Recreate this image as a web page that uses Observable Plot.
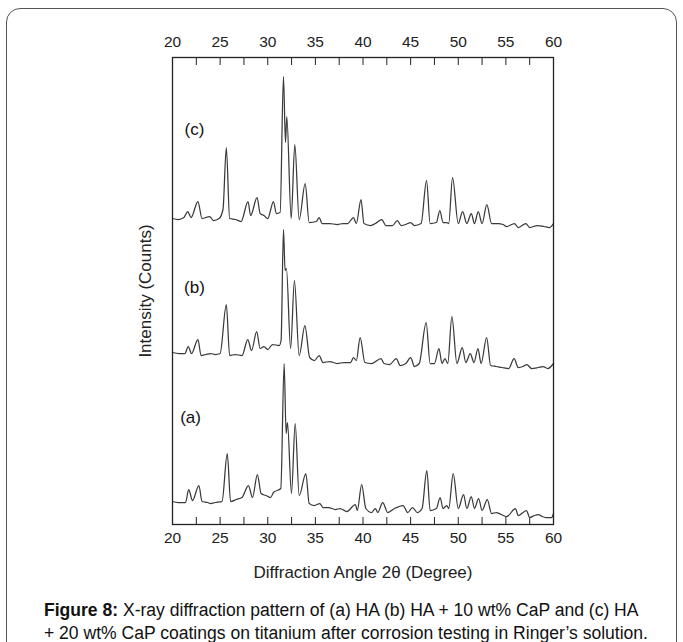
<!DOCTYPE html>
<html>
<head>
<meta charset="utf-8">
<script src="https://cdn.jsdelivr.net/npm/d3@7"></script>
<script src="https://cdn.jsdelivr.net/npm/@observablehq/plot@0.6"></script>
<style>
  body { margin: 0; background: #fff; }
  #wrap { position: relative; width: 683px; height: 642px; overflow: hidden; background: #fff; }
  #box { position: absolute; left: 6px; top: 8px; width: 671px; height: 680px; border: 1.5px solid #555; border-radius: 14px; box-sizing: border-box; }
  #chart { position: absolute; left: 0; top: 0; }
  #caption { position: absolute; left: 44px; top: 599px; font-family: "Liberation Sans", Arial, sans-serif; font-size: 18px; line-height: 23px; color: #111; white-space: nowrap; transform-origin: 0 0; }
</style>
</head>
<body>
<div id="wrap">
  <div id="box"></div>
  <div id="chart"></div>
  <div id="caption"><b>Figure 8:</b> X-ray diffraction pattern of (a) HA (b) HA + 10 wt% CaP and (c) HA<br>+ 20 wt% CaP coatings on titanium after corrosion testing in Ringer’s solution.</div>
</div>
<script>
// ---- data (2θ in degrees, intensity in arbitrary counts above each trace's offset) ----
const xTickLabels = [20, 25, 30, 35, 40, 45, 50, 55, 60];
const xMinorTicks = [20, 22.5, 25, 27.5, 30, 32.5, 35, 37.5, 40, 42.5, 45, 47.5, 50, 52.5, 55, 57.5, 60];

const patternNames = ["(a)", "(b)", "(c)"];
const patternOffsets = [0, 150, 295];

const patternA = [
  [20.0,23],[20.6,22],[21.37,22],[21.7,35],[22.1,24],[22.77,39],[23.1,23],[23.7,22],[24.0,21],[24.5,22],[25.2,23],
  [25.75,71],[26.1,23],[26.7,25],[27.3,27],[27.97,39],[28.4,27],[28.91,50],[29.3,31],[29.8,29],[30.3,27],[30.6,32],
  [31.37,36],[31.72,161],[31.93,91],[32.07,102],[32.49,31],[32.88,101],[33.3,29],[34.0,51],[34.35,21],[34.87,19],
  [35.47,21],[35.8,17],[36.4,17],[37.1,15],[37.6,16],[38.3,13],[39.2,20],[39.4,14],[39.86,40],[40.3,16],[40.9,12],
  [41.3,16],[41.55,12],[42.07,22],[42.6,12],[43.3,16],[44.2,19],[44.7,12],[45.2,17],[45.7,12],[46.2,16],[46.7,54],
  [47.05,14],[47.7,16],[48.1,27],[48.4,16],[48.8,19],[49.0,16],[49.47,51],[50.0,16],[50.56,30],[50.9,16],[51.37,28],
  [51.7,16],[52.14,26],[52.5,14],[53.05,25],[53.5,11],[54.0,12],[54.5,10],[55.1,8],[56.0,16],[56.3,9],[57.16,14],
  [57.5,7],[58.0,9],[58.4,10],[58.8,8],[59.2,7],[59.8,7],[60.0,11]
];

const patternB = [
  [20.0,22],[20.7,21],[21.3,21],[21.65,28],[22.0,21],[22.67,35],[23.0,19],[23.5,20],[24.0,21],[24.5,20],[25.0,21],
  [25.65,70],[26.0,19],[26.6,20],[27.3,19],[27.9,35],[28.3,24],[28.84,43],[29.2,26],[29.6,28],[30.0,25],[30.5,30],
  [31.2,29],[31.4,34],[31.65,145],[31.82,104],[31.96,106],[32.4,26],[32.8,94],[33.3,19],[33.9,49],[34.4,17],[34.9,14],
  [35.4,19],[35.8,12],[36.5,13],[37.3,11],[38.0,12],[38.7,12],[39.0,17],[39.3,14],[39.7,37],[40.2,12],[40.9,11],
  [41.9,16],[42.2,11],[42.8,10],[43.5,16],[43.9,9],[44.5,11],[45.0,17],[45.4,8],[45.9,11],[46.63,52],[47.05,11],
  [47.5,11],[47.97,26],[48.3,11],[48.6,16],[48.9,11],[49.33,58],[49.86,11],[50.42,27],[50.8,12],[51.26,21],[51.65,12],
  [52.07,26],[52.4,11],[52.98,37],[53.4,9],[54.0,8],[54.6,7],[55.3,6],[55.86,16],[56.3,7],[56.8,8],[57.2,10],
  [57.7,6],[58.4,7],[58.9,8],[59.4,6],[60.0,11]
];

const patternC = [
  [20.0,11],[20.6,10],[21.2,12],[21.6,18],[21.95,12],[22.67,28],[23.1,11],[23.9,13],[24.3,9],[24.9,11],[25.3,20],
  [25.65,82],[26.0,11],[26.6,10],[27.2,8],[27.93,28],[28.2,14],[28.88,32],[29.2,16],[29.6,14],[30.0,11],[30.6,28],
  [30.9,16],[31.3,17],[31.65,153],[31.86,87],[32.0,113],[32.46,11],[32.84,85],[33.3,10],[33.93,46],[34.35,7],[35.1,8],
  [35.4,12],[35.7,6],[36.5,6],[37.3,5],[37.9,6],[38.4,6],[39.0,12],[39.3,6],[39.79,30],[40.1,6],[40.8,4],[41.3,6],
  [41.97,10],[42.4,4],[43.1,4],[43.6,9],[44.0,4],[44.5,5],[45.0,7],[45.4,4],[46.1,6],[46.67,49],[47.05,6],[47.7,7],
  [48.07,19],[48.4,7],[48.8,7],[49.0,6],[49.4,52],[50.0,6],[50.46,18],[50.9,6],[51.37,16],[51.7,6],[52.1,18],[52.5,6],
  [53.0,25],[53.5,6],[54.2,6],[54.7,5],[55.1,3],[55.9,6],[56.3,2],[57.1,6],[57.5,2],[58.3,4],[59.0,3],[59.6,2],[60.0,6]
];

const labelAngles = [21.9, 22.3, 22.3];
const labelIntensities = [107, 87, 100];

// ---- build tables ----
const patterns = [patternA, patternB, patternC];
const rows = [];
patterns.forEach((p, i) => {
  p.forEach(([angle, counts]) => rows.push({pattern: patternNames[i], angle, value: counts + patternOffsets[i]}));
});
const labels = patternNames.map((name, i) => ({name, angle: labelAngles[i], value: labelIntensities[i] + patternOffsets[i]}));

const fontFamily = '"Liberation Sans", Arial, sans-serif';

const chart = Plot.plot({
  width: 683,
  height: 590,
  marginLeft: 172,
  marginRight: 130,
  marginTop: 57,
  marginBottom: 66,
  style: {fontFamily, fontSize: "15px", color: "#222", background: "transparent", overflow: "visible"},
  x: {domain: [20, 60]},
  y: {domain: [0, 467]},
  marks: [
    Plot.axisX({anchor: "bottom", ticks: xMinorTicks, tickSize: -7, tickFormat: () => "", label: null, stroke: "#222"}),
    Plot.axisX({anchor: "top", ticks: xMinorTicks, tickSize: -7, tickFormat: () => "", label: null, stroke: "#222"}),
    Plot.axisX({anchor: "bottom", ticks: xTickLabels, tickSize: 0, tickPadding: 7, fontSize: 15.5, label: null}),
    Plot.axisX({anchor: "bottom", ticks: [], tickSize: 0, fontSize: 17,
      label: "Diffraction Angle 2θ (Degree)", labelAnchor: "center", labelArrow: "none", labelOffset: 53}),
    Plot.axisX({anchor: "top", ticks: xTickLabels, tickSize: 0, tickPadding: 11, fontSize: 15.5, label: null}),
    Plot.axisY({anchor: "left", ticks: [], tickSize: 0, fontSize: 17,
      label: "Intensity (Counts)", labelAnchor: "center", labelArrow: "none", labelOffset: 34}),
    Plot.line(rows, {x: "angle", y: "value", z: "pattern", stroke: "#3a3a3a", strokeWidth: 1.25, curve: "monotone-x"}),
    Plot.text(labels, {x: "angle", y: "value", text: "name", fontSize: 17, fill: "#111"}),
    Plot.frame({stroke: "#222", strokeWidth: 1.3})
  ]
});
document.getElementById("chart").appendChild(chart);

// fit caption to the reference's line width (condensed face in original)
const cap = document.getElementById("caption");
const w = cap.getBoundingClientRect().width;
const target = 604;
if (w > target) cap.style.transform = `scaleX(${target / w})`;
</script>
</body>
</html>
